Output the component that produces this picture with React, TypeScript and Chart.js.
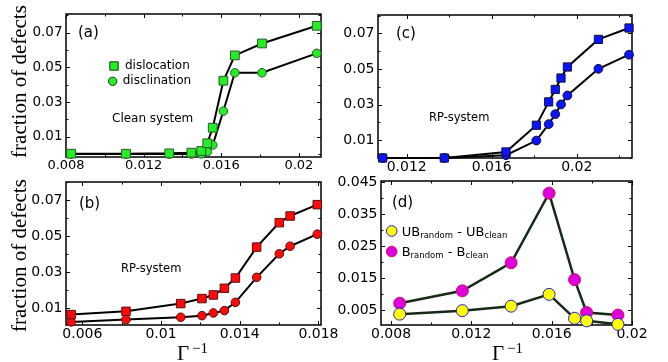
import React, { useEffect, useRef } from "react";
import { Chart, registerables } from "chart.js";
Chart.register(...registerables);
Chart.defaults.font.family = "DejaVu Sans";

const W = 668;
const H = 362;

// ---------- Panel (a): clean system ----------
const aGammaInv = [0.00826, 0.01109, 0.01332, 0.01446, 0.01497, 0.01528, 0.01556, 0.01611, 0.0167, 0.0181, 0.02092];
const aDislocation = [0.0002, 0.0002, 0.0004, 0.0008, 0.0018, 0.0062, 0.0152, 0.0423, 0.0569, 0.0638, 0.074];
const aDisclination = [0.0, 0.0, 0.0, 0.0, 0.0001, 0.0014, 0.0052, 0.0248, 0.0469, 0.0469, 0.0581];
const aXTicks = [0.008, 0.012, 0.016, 0.02];
const aXLabels = ["0.008", "0.012", "0.016", "0.02"];
const aXMinor = [0.01, 0.014, 0.018];

// ---------- Panel (c): RP-system ----------
const cGammaInv = [0.01087, 0.01377, 0.01667, 0.0181, 0.01868, 0.01899, 0.01926, 0.01956, 0.02102, 0.02246];
const cDislocation = [0.0, 0.0, 0.0034, 0.0184, 0.0315, 0.0385, 0.0449, 0.0511, 0.0666, 0.073];
const cDisclination = [0.0, 0.0, 0.0016, 0.0098, 0.019, 0.0246, 0.0301, 0.0351, 0.0501, 0.058];
const cXTicks = [0.012, 0.016, 0.02];
const cXLabels = ["0.012", "0.016", "0.02"];
const cXMinor = [0.014, 0.018, 0.022];

// ---------- Panel (b): RP-system ----------
const bGammaInv = [0.00543, 0.00822, 0.011, 0.01208, 0.01266, 0.01322, 0.01378, 0.01486, 0.01601, 0.01656, 0.01794];
const bDislocation = [0.0063, 0.0081, 0.0124, 0.0152, 0.0172, 0.0209, 0.0266, 0.0438, 0.0574, 0.0611, 0.0674];
const bDisclination = [0.0022, 0.0035, 0.0048, 0.0057, 0.0072, 0.0085, 0.0131, 0.027, 0.0401, 0.0443, 0.051];
const bXTicks = [0.006, 0.01, 0.014, 0.018];
const bXLabels = ["0.006", "0.01", "0.014", "0.018"];
const bXMinor = [0.008, 0.012, 0.016];

// shared y ticks for (a), (b), (c)
const defYTicks = [0.01, 0.03, 0.05, 0.07];
const defYLabels = ["0.01", "0.03", "0.05", "0.07"];
const defYMinor = [0.0, 0.02, 0.04, 0.06, 0.08];

// ---------- Panel (d): Binder differences ----------
const dGammaInv = [0.00843, 0.01155, 0.01398, 0.01587, 0.01714, 0.01774, 0.0193];
const dUB = [0.0037, 0.0048, 0.0062, 0.0099, 0.0024, 0.0016, 0.0005];
const dB = [0.0071, 0.011, 0.0198, 0.0416, 0.0145, 0.0042, 0.0034];
const dXTicks = [0.008, 0.012, 0.016, 0.02];
const dXLabels = ["0.008", "0.012", "0.016", "0.02"];
const dXMinor = [0.01, 0.014, 0.018];
const dYTicks = [0.005, 0.015, 0.025, 0.035, 0.045];
const dYLabels = ["0.005", "0.015", "0.025", "0.035", "0.045"];
const dYMinor = [0.01, 0.02, 0.03, 0.04];

type Series = {
  x: number[]; y: number[]; line: string; lw: number; style: string; r: number; fill: string; edge: string;
};

type PanelCfg = {
  L: number; T: number; R: number; B: number;
  xMin: number; xMax: number; yMin: number; yMax: number;
  xTicks: number[]; xLabels: string[]; xMinor: number[];
  yTicks: number[]; yLabels: string[]; yMinor: number[];
  xfs: number; yfs: number;
  series: Series[];
  draw: (ctx: CanvasRenderingContext2D) => void;
};

function text(ctx: CanvasRenderingContext2D, s: string, x: number, y: number, font: string, baseline: CanvasTextBaseline = "middle", align: CanvasTextAlign = "left", color = "#000") {
  ctx.save();
  ctx.font = font;
  ctx.fillStyle = color;
  ctx.textBaseline = baseline;
  ctx.textAlign = align;
  ctx.fillText(s, x, y);
  ctx.restore();
}

function runs(ctx: CanvasRenderingContext2D, parts: [string, boolean][], x: number, y: number) {
  // y = baseline of main text; parts: [text, isSubscript]
  let cx = x;
  ctx.save();
  ctx.fillStyle = "#000";
  ctx.textBaseline = "alphabetic";
  ctx.textAlign = "left";
  for (const [s, sub] of parts) {
    ctx.font = sub ? "8.5px DejaVu Sans" : "13px DejaVu Sans";
    ctx.fillText(s, cx, sub ? y + 2 : y);
    cx += ctx.measureText(s).width;
  }
  ctx.restore();
}

function marker(ctx: CanvasRenderingContext2D, kind: string, x: number, y: number, r: number, fill: string, edge: string) {
  ctx.save();
  ctx.fillStyle = fill;
  ctx.strokeStyle = edge;
  ctx.lineWidth = 1;
  ctx.beginPath();
  if (kind === "rect") ctx.rect(x - r, y - r, 2 * r, 2 * r);
  else ctx.arc(x, y, r, 0, Math.PI * 2);
  ctx.fill();
  ctx.stroke();
  ctx.restore();
}

function yTitle(ctx: CanvasRenderingContext2D, cy: number) {
  ctx.save();
  ctx.translate(26, cy);
  ctx.rotate(-Math.PI / 2);
  ctx.font = "21px 'Liberation Serif'";
  ctx.fillStyle = "#000";
  ctx.textAlign = "center";
  ctx.textBaseline = "alphabetic";
  ctx.fillText("fraction of defects", 0, 0);
  ctx.restore();
}

function xTitle(ctx: CanvasRenderingContext2D, x: number) {
  text(ctx, "Γ", x, 360, "21px 'Liberation Serif'", "alphabetic");
  text(ctx, "−1", x + 15, 352.5, "15px 'Liberation Serif'", "alphabetic");
}

function makeDeco(p: PanelCfg) {
  return {
    id: "deco",
    beforeDatasetsDraw(chart: any) {
      const { ctx, chartArea: a, scales } = chart;
      const xs = scales.x;
      const ys = scales.y;
      ctx.save();
      ctx.strokeStyle = "#000";
      ctx.lineWidth = 1;
      const xt = (vals: number[], len: number) => {
        for (const v of vals) {
          if (v < p.xMin || v > p.xMax) continue;
          const px = Math.round(xs.getPixelForValue(v)) + 0.5;
          ctx.beginPath();
          ctx.moveTo(px, a.bottom); ctx.lineTo(px, a.bottom - len);
          ctx.moveTo(px, a.top); ctx.lineTo(px, a.top + len);
          ctx.stroke();
        }
      };
      const yt = (vals: number[], len: number) => {
        for (const v of vals) {
          if (v < p.yMin || v > p.yMax) continue;
          const py = Math.round(ys.getPixelForValue(v)) + 0.5;
          ctx.beginPath();
          ctx.moveTo(a.left, py); ctx.lineTo(a.left + len, py);
          ctx.moveTo(a.right, py); ctx.lineTo(a.right - len, py);
          ctx.stroke();
        }
      };
      xt(p.xTicks, 4); xt(p.xMinor, 2.5);
      yt(p.yTicks, 4); yt(p.yMinor, 2.5);
      ctx.lineWidth = 1.5;
      ctx.strokeRect(a.left, a.top, a.right - a.left, a.bottom - a.top);
      ctx.restore();
    },
    afterDraw(chart: any) {
      p.draw(chart.ctx);
    },
  };
}

function makeConfig(p: PanelCfg): any {
  const yw = 60;
  const xh = 24;
  const lab = (ticks: number[], labels: string[]) => (v: number) => {
    const i = ticks.findIndex((t) => Math.abs(t - v) < 1e-9);
    return i >= 0 ? labels[i] : "";
  };
  return {
    type: "line",
    data: {
      datasets: p.series.map((s) => ({
        data: s.x.map((v, i) => ({ x: v, y: s.y[i] })),
        borderColor: s.line,
        borderWidth: s.lw,
        pointStyle: s.style,
        pointRadius: s.r,
        pointBackgroundColor: s.fill,
        pointBorderColor: s.edge,
        pointBorderWidth: 1,
        tension: 0,
        fill: false,
        clip: false,
      })),
    },
    options: {
      responsive: false,
      animation: false,
      devicePixelRatio: 1,
      events: [],
      layout: { padding: { left: p.L - yw, top: p.T, right: W - p.R, bottom: H - p.B - xh } },
      plugins: { legend: { display: false }, tooltip: { enabled: false } },
      scales: {
        x: {
          type: "linear",
          min: p.xMin,
          max: p.xMax,
          grid: { display: false, drawTicks: false },
          border: { display: false },
          afterFit: (s: any) => { s.height = xh; },
          afterBuildTicks: (s: any) => { s.ticks = p.xTicks.map((v) => ({ value: v })); },
          ticks: {
            autoSkip: false, maxRotation: 0, minRotation: 0, padding: 1, color: "#000",
            font: { family: "DejaVu Sans", size: p.xfs },
            callback: lab(p.xTicks, p.xLabels),
          },
        },
        y: {
          type: "linear",
          min: p.yMin,
          max: p.yMax,
          grid: { display: false, drawTicks: false },
          border: { display: false },
          afterFit: (s: any) => { s.width = yw; },
          afterBuildTicks: (s: any) => { s.ticks = p.yTicks.map((v) => ({ value: v })); },
          ticks: {
            autoSkip: false, padding: 3.5, color: "#000",
            font: { family: "DejaVu Sans", size: p.yfs },
            callback: lab(p.yTicks, p.yLabels),
          },
        },
      },
    },
    plugins: [makeDeco(p)],
  };
}

const GREEN = "#22ee22";
const RED = "#ff0a0a";
const BLUE = "#0a14ff";

const panels: PanelCfg[] = [
  {
    L: 66, T: 14, R: 321, B: 157,
    xMin: 0.008, xMax: 0.02114, yMin: -0.0017, yMax: 0.0808,
    xTicks: aXTicks, xLabels: aXLabels, xMinor: aXMinor,
    yTicks: defYTicks, yLabels: defYLabels, yMinor: defYMinor,
    xfs: 13, yfs: 13.5,
    series: [
      { x: aGammaInv, y: aDislocation, line: "#000", lw: 2, style: "rect", r: 6.2, fill: GREEN, edge: "#335533" },
      { x: aGammaInv, y: aDisclination, line: "#000", lw: 2, style: "circle", r: 4.3, fill: GREEN, edge: "#335533" },
    ],
    draw: (ctx) => {
      text(ctx, "(a)", 78, 33.5, "15px DejaVu Sans");
      marker(ctx, "rect", 114, 66, 4.2, GREEN, "#223322");
      text(ctx, "dislocation", 125, 66, "12px DejaVu Sans");
      marker(ctx, "circle", 112.7, 81.3, 4.2, GREEN, "#223322");
      text(ctx, "disclination", 122.7, 81.3, "12px DejaVu Sans");
      text(ctx, "Clean system", 112, 118.5, "12px DejaVu Sans");
      yTitle(ctx, 81.5);
    },
  },
  {
    L: 378, T: 15, R: 632, B: 158,
    xMin: 0.01065, xMax: 0.0226, yMin: 0, yMax: 0.0803,
    xTicks: cXTicks, xLabels: cXLabels, xMinor: cXMinor,
    yTicks: defYTicks, yLabels: defYLabels, yMinor: defYMinor,
    xfs: 14, yfs: 14,
    series: [
      { x: cGammaInv, y: cDislocation, line: "#000", lw: 2, style: "rect", r: 5.8, fill: BLUE, edge: "#111133" },
      { x: cGammaInv, y: cDisclination, line: "#000", lw: 2, style: "circle", r: 4.4, fill: BLUE, edge: "#111133" },
    ],
    draw: (ctx) => {
      text(ctx, "(c)", 396, 34, "15px DejaVu Sans");
      text(ctx, "RP-system", 429, 118.5, "11.5px DejaVu Sans");
    },
  },
  {
    L: 66, T: 182, R: 321, B: 325,
    xMin: 0.00517, xMax: 0.01813, yMin: 0.0005, yMax: 0.08,
    xTicks: bXTicks, xLabels: bXLabels, xMinor: bXMinor,
    yTicks: defYTicks, yLabels: defYLabels, yMinor: defYMinor,
    xfs: 14, yfs: 14,
    series: [
      { x: bGammaInv, y: bDislocation, line: "#000", lw: 2, style: "rect", r: 6, fill: RED, edge: "#551111" },
      { x: bGammaInv, y: bDisclination, line: "#000", lw: 2, style: "circle", r: 4.3, fill: RED, edge: "#551111" },
    ],
    draw: (ctx) => {
      text(ctx, "(b)", 79, 204, "15px DejaVu Sans");
      text(ctx, "RP-system", 121, 269.5, "11.5px DejaVu Sans");
      yTitle(ctx, 255.5);
      xTitle(ctx, 177);
    },
  },
  {
    L: 381, T: 181, R: 632, B: 325,
    xMin: 0.0075, xMax: 0.02, yMin: 0.0003, yMax: 0.0454,
    xTicks: dXTicks, xLabels: dXLabels, xMinor: dXMinor,
    yTicks: dYTicks, yLabels: dYLabels, yMinor: dYMinor,
    xfs: 14, yfs: 14,
    series: [
      { x: dGammaInv, y: dUB, line: "#162a16", lw: 2.5, style: "circle", r: 6, fill: "#ffff00", edge: "#2222cc" },
      { x: dGammaInv, y: dB, line: "#162a16", lw: 2.5, style: "circle", r: 6, fill: "#dd00dd", edge: "#cc1060" },
    ],
    draw: (ctx) => {
      text(ctx, "(d)", 392, 203, "15px DejaVu Sans");
      marker(ctx, "circle", 391.7, 231, 5.3, "#ffff00", "#2222cc");
      runs(ctx, [["UB", false], ["random", true], [" - UB", false], ["clean", true]], 401.7, 235.7);
      marker(ctx, "circle", 391.7, 251.5, 5.3, "#dd00dd", "#cc1060");
      runs(ctx, [["B", false], ["random", true], [" - B", false], ["clean", true]], 401.7, 256);
      xTitle(ctx, 492);
    },
  },
];

function Panel({ cfg }: { cfg: PanelCfg }) {
  const ref = useRef<HTMLCanvasElement>(null);
  useEffect(() => {
    if (!ref.current) return;
    const chart = new Chart(ref.current, makeConfig(cfg));
    return () => chart.destroy();
  }, [cfg]);
  return (
    <canvas
      ref={ref}
      width={W}
      height={H}
      style={{ position: "absolute", left: 0, top: 0, width: W, height: H }}
    />
  );
}

export default function App() {
  return (
    <div style={{ position: "fixed", left: 0, top: 0, width: W, height: H, background: "#fff", overflow: "hidden" }}>
      {panels.map((p, i) => (
        <Panel key={i} cfg={p} />
      ))}
    </div>
  );
}
